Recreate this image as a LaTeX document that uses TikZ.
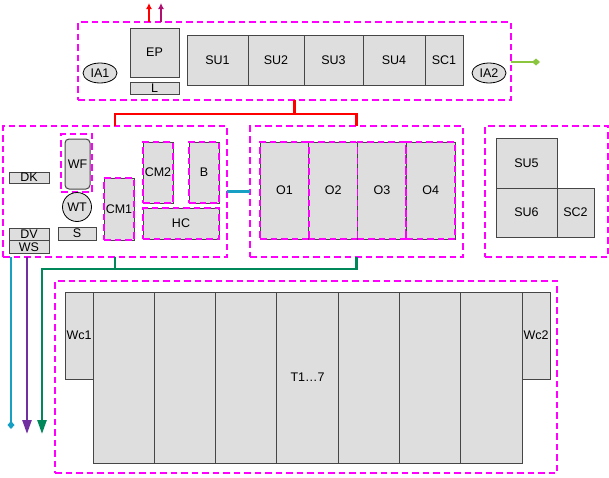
\documentclass[tikz,border=0pt]{standalone}
\usepackage{fontspec}
\setmainfont{Liberation Sans}
\usepackage{tikz}
\usetikzlibrary{positioning, arrows.meta, shapes.geometric}
\usepackage{xcolor}

\definecolor{magdash}{RGB}{255,0,255}
\definecolor{boxgray}{RGB}{222,222,222}
\definecolor{boxline}{RGB}{70,70,70}
\definecolor{outpurple}{RGB}{176,16,112}
\definecolor{outgreen}{RGB}{140,198,63}
\definecolor{cyanline}{RGB}{23,160,196}
\definecolor{violetline}{RGB}{112,48,160}
\definecolor{greenline}{RGB}{0,136,90}

\begin{document}
\begin{tikzpicture}[
        x=1pt, y=-1pt,
        font=\fontsize{12.5}{14}\selectfont,
        % Stili per i gruppi e i blocchi
        group/.style={rectangle, draw=magdash, line width=1.6pt, dash pattern=on 6.5pt off 4pt, inner sep=0pt, outer sep=0pt},
        unit/.style={rectangle, draw=boxline, line width=1pt, fill=boxgray, inner sep=0pt, outer sep=0pt},
        subgrp/.style={unit, postaction={draw=magdash, line width=1.6pt, dash pattern=on 6.5pt off 4pt}},
        port/.style={ellipse, draw=black, fill=boxgray, line width=0.8pt, inner sep=0pt, minimum width=34pt, minimum height=20pt},
        % Stili per le linee
        redbus/.style={draw=red, line width=2.6pt},
        wire/.style={line width=2.5pt}
    ]

    \useasboundingbox (0,0) rectangle (609,477);

    % --- TOP GROUP ---
    \node[group, minimum width=433pt, minimum height=78pt] (gTop) at (294.5,61) {};
    \node[unit, minimum width=49pt, minimum height=49pt] (EP) at (154.5,52.5) {EP};
    \node[unit, minimum width=49pt, minimum height=12pt, below=5pt of EP] (L) {L};
    \node[unit, minimum width=61pt, minimum height=50pt] (SU1) at (217.5,60) {SU1};
    \node[unit, minimum width=56pt, minimum height=50pt, right=0pt of SU1] (SU2) {SU2};
    \node[unit, minimum width=59pt, minimum height=50pt, right=0pt of SU2] (SU3) {SU3};
    \node[unit, minimum width=62pt, minimum height=50pt, right=0pt of SU3] (SU4) {SU4};
    \node[unit, minimum width=38pt, minimum height=50pt, right=0pt of SU4] (SC1) {SC1};
    \node[port] (IA1) at (100,73) {IA1};
    \node[port] (IA2) at (489,73) {IA2};

    % --- LEFT GROUP ---
    \node[group, minimum width=224pt, minimum height=131pt] (gLeft) at (115,191.5) {};
    \node[group, minimum width=31pt, minimum height=58pt] (gWF) at (76.5,163) {};
    \node[unit, rounded corners=4pt, minimum width=25pt, minimum height=50pt] (WF) at (77.5,164) {WF};
    \node[circle, draw=black, line width=0.8pt, fill=boxgray, inner sep=0pt, minimum size=29pt] (WT) at (77,207) {WT};
    \node[unit, minimum width=40pt, minimum height=11pt] (DK) at (29,177.5) {DK};
    \node[unit, minimum width=38pt, minimum height=13pt] (S) at (77,233.5) {S};
    \node[unit, minimum width=40pt, minimum height=12.5pt] (DV) at (29,234.5) {DV};
    \node[unit, minimum width=40pt, minimum height=12.5pt, below=0pt of DV] (WS) {WS};
    \node[subgrp, minimum width=30pt, minimum height=62pt] (CM1) at (119,209) {CM1};
    \node[subgrp, minimum width=30pt, minimum height=61pt] (CM2) at (158,172.5) {CM2};
    \node[subgrp, minimum width=30pt, minimum height=61pt] (B) at (204,172.5) {B};
    \node[subgrp, minimum width=76pt, minimum height=31pt] (HC) at (181,223.5) {HC};

    % --- MIDDLE GROUP ---
    \node[group, minimum width=213pt, minimum height=131pt] (gMid) at (356.5,191.5) {};
    \foreach \i in {1,2,3,4} {
        \node[subgrp, minimum width=48.75pt, minimum height=97pt] (O\i) at (260+\i*48.75-24.375,190.5) {O\i};
    }

    % --- RIGHT GROUP ---
    \node[group, minimum width=123pt, minimum height=131pt] (gRight) at (546.5,191.5) {};
    \node[unit, minimum width=61pt, minimum height=50pt] (SU5) at (526.5,163) {SU5};
    \node[unit, minimum width=61pt, minimum height=49pt, below=0pt of SU5] (SU6) {SU6};
    \node[unit, minimum width=37pt, minimum height=49pt, right=0pt of SU6] (SC2) {SC2};

    % --- BOTTOM GROUP ---
    \node[group, minimum width=502pt, minimum height=192pt] (gBot) at (306,377) {};
    \foreach \i in {1,...,7} {
        \node[unit, minimum width=61.3pt, minimum height=171pt] (T\i) at (93+\i*61.3-30.65,377.5) {};
    }
    \node at (T4) {T1\ldots7};
    \node[unit, minimum width=28pt, minimum height=87pt, anchor=north east] (Wc1) at (T1.north west) {Wc1};
    \node[unit, minimum width=28pt, minimum height=87pt, anchor=north west] (Wc2) at (T7.north east) {Wc2};

    % --- CONNECTORS ---
    \coordinate (rJ) at (294.5,114);
    \draw[redbus] (gTop.south) -- (rJ);
    \draw[redbus] (gLeft.north) |- (rJ) -| (gMid.north);
    \draw[wire, cyanline] (gLeft.east) -- (gMid.west);

    \coordinate (outRed) at (149,3);
    \coordinate (outPur) at (161,3);
    \coordinate (outGrn) at (540,62);
    \draw[wire, red, -{Latex[length=6pt,width=6pt]}] (outRed |- gTop.north) -- (outRed);
    \draw[wire, outpurple, -{Latex[length=6pt,width=6pt]}] (outPur |- gTop.north) -- (outPur);
    \draw[wire, outgreen, -{Diamond[length=8pt,width=7pt]}] (gTop.east |- outGrn) -- (outGrn);

    \coordinate (dnCyan) at (11,429);
    \coordinate (dnViol) at (27,434);
    \coordinate (dnGrn) at (42,434);
    \coordinate (gJ) at (115,269);
    \draw[wire, cyanline, -{Diamond[length=8pt,width=7pt]}] (dnCyan |- gLeft.south) -- (dnCyan);
    \draw[wire, violetline, -{Triangle[length=14pt,width=9pt]}] (dnViol |- gLeft.south) -- (dnViol);
    \draw[wire, greenline, -{Triangle[length=14pt,width=9pt]}] (gMid.south) |- (gJ) -| (dnGrn);
    \draw[wire, greenline] (gLeft.south) -- (gJ);

\end{tikzpicture}
\end{document}
